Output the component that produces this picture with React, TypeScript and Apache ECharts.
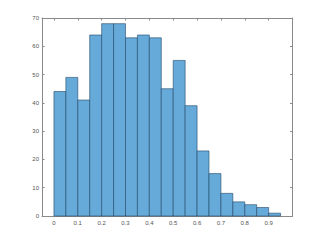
import React, { useEffect, useRef } from "react";
import * as echarts from "echarts";

const binEdges = [0, 0.05, 0.1, 0.15, 0.2, 0.25, 0.3, 0.35, 0.4, 0.45, 0.5, 0.55, 0.6, 0.65, 0.7, 0.75, 0.8, 0.85, 0.9, 0.95];
const counts = [44, 49, 41, 64, 68, 68, 63, 64, 63, 45, 55, 39, 23, 15, 8, 5, 4, 3, 1];
const xTicks = [0, 0.1, 0.2, 0.3, 0.4, 0.5, 0.6, 0.7, 0.8, 0.9];
const yTicks = [0, 10, 20, 30, 40, 50, 60, 70];

export default function App() {
  const ref = useRef<HTMLDivElement>(null);
  useEffect(() => {
    if (!ref.current) return;
    const chart = echarts.init(ref.current, null, { renderer: "svg" });
    const data = counts.map((c, i) => [binEdges[i], binEdges[i + 1], c]);
    const axisColor = "#8a8a8a";
    const labelStyle = { color: "#555", fontSize: 6, fontFamily: "Liberation Sans, Arial, sans-serif" };
    const xBase = {
      type: "value" as const,
      min: -0.05,
      max: 1.0,
      splitLine: { show: false },
      axisLine: { show: true, onZero: false, lineStyle: { color: axisColor, width: 1 } },
      axisTick: { show: true, inside: true, length: 2.5, customValues: xTicks, lineStyle: { color: axisColor } },
    };
    const yBase = {
      type: "value" as const,
      min: 0,
      max: 70,
      interval: 10,
      splitLine: { show: false },
      axisLine: { show: true, onZero: false, lineStyle: { color: axisColor, width: 1 } },
      axisTick: { show: true, inside: true, length: 2.5, customValues: yTicks, lineStyle: { color: axisColor } },
    };
    chart.setOption({
      animation: false,
      backgroundColor: "#fff",
      grid: { left: 42, right: 31.5, top: 18, bottom: 27 },
      xAxis: [
        { ...xBase, position: "bottom", axisLabel: { ...labelStyle, margin: 4, customValues: xTicks, formatter: (v: number) => String(+v.toFixed(1)) } },
        { ...xBase, position: "top", axisLabel: { show: false } },
      ],
      yAxis: [
        { ...yBase, position: "left", axisLabel: { ...labelStyle, margin: 3 } },
        { ...yBase, position: "right", axisLabel: { show: false } },
      ],
      series: [
        {
          type: "custom",
          xAxisIndex: 0,
          yAxisIndex: 0,
          data,
          renderItem: (params: any, api: any) => {
            const p0 = api.coord([api.value(0), api.value(2)]);
            const p1 = api.coord([api.value(1), 0]);
            return {
              type: "rect",
              shape: { x: p0[0], y: p0[1], width: p1[0] - p0[0], height: p1[1] - p0[1] },
              style: { fill: "#65aad8", stroke: "#23476a", lineWidth: 0.6 },
            };
          },
        },
      ],
    });
    return () => chart.dispose();
  }, []);
  return <div ref={ref} style={{ position: "fixed", left: 0, top: 0, width: 324, height: 243 }} />;
}
